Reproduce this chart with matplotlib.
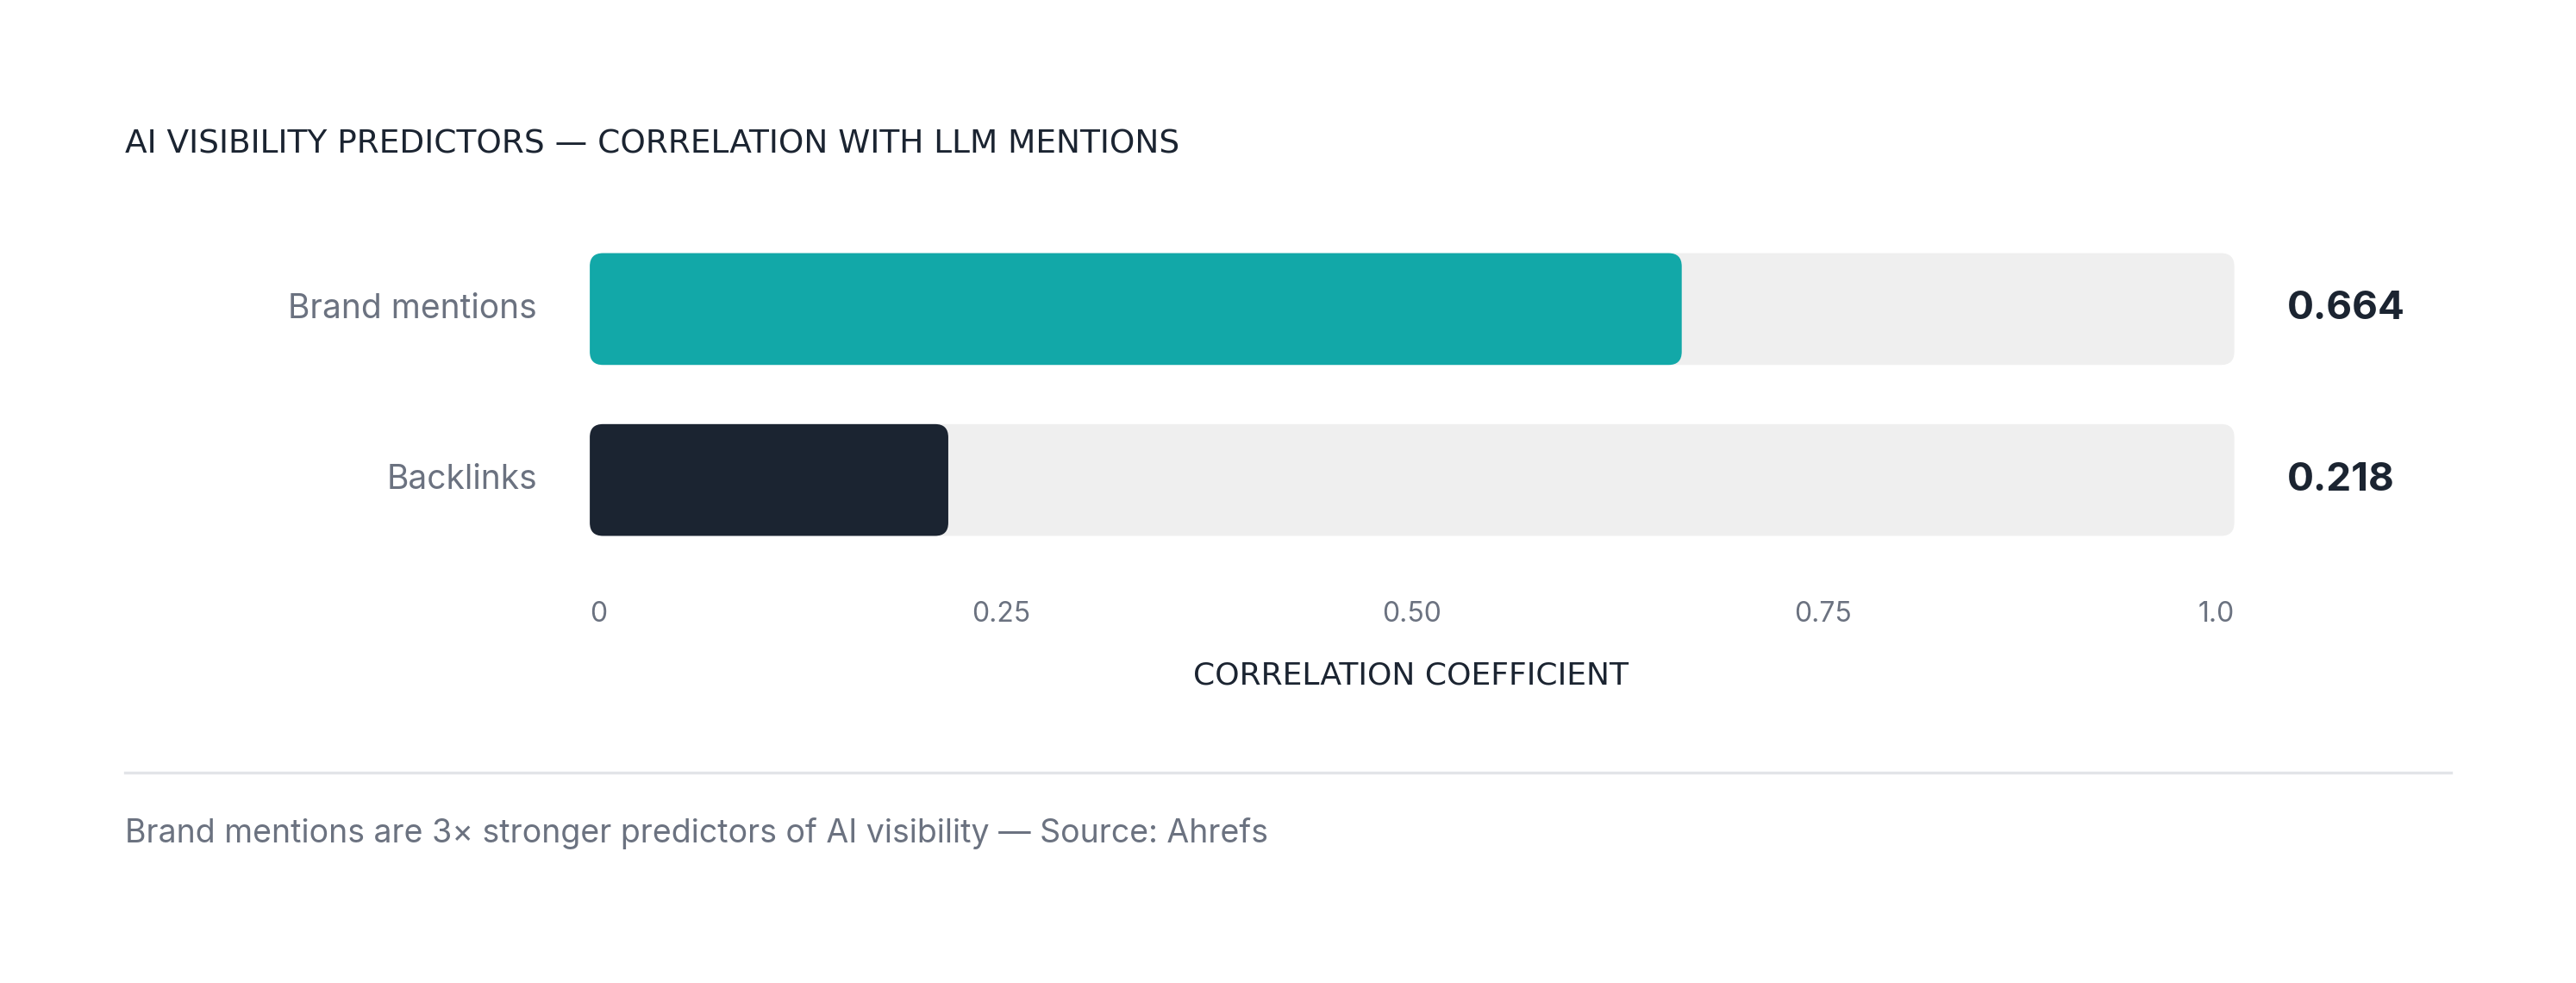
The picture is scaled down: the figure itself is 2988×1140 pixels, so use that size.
import matplotlib
matplotlib.use("Agg")
import matplotlib.pyplot as plt
from matplotlib.patches import FancyBboxPatch

categories = ["Brand mentions", "Backlinks"]
values = [0.664, 0.218]
value_labels = ["0.664", "0.218"]
bar_colors = ["#12A8A8", "#1B2431"]
tick_vals = [0, 0.25, 0.50, 0.75, 1.0]
tick_labels = ["0", "0.25", "0.50", "0.75", "1.0"]

W, H = 1568, 598
fig = plt.figure(figsize=(14.94, 5.7), dpi=200)
fig.patch.set_facecolor("white")
plt.rcParams['font.family'] = ['Inter', 'DejaVu Sans']

def fx(x): return x / W
def fy(y): return 1 - y / H

ax = fig.add_axes([fx(359), fy(340), fx(1360) - fx(359), (340 - 140) / H])
ax.set_xlim(0, 1)
ax.set_ylim(1.4615, -0.4615)
ax.axis("off")
h = 68 / 104
asp = 1001 / 104
for i, v in enumerate(values):
    ax.add_patch(FancyBboxPatch((0, i - h / 2), 1, h, boxstyle="round,pad=0,rounding_size=0.008",
                                mutation_aspect=asp, fc="#EFEFEF", ec="none"))
    ax.add_patch(FancyBboxPatch((0, i - h / 2), v, h, boxstyle="round,pad=0,rounding_size=0.008",
                                mutation_aspect=asp, fc=bar_colors[i], ec="none"))
    ax.text(-0.032, i, categories[i], ha="right", va="center", fontsize=14, color="#6B7280")
    ax.text(1.032, i, value_labels[i], ha="left", va="center", fontsize=16.5,
            fontweight="bold", color="#1B2431")

for tv, tl in zip(tick_vals, tick_labels):
    ha = "left" if tv == 0 else ("right" if tv == 1.0 else "center")
    xpix = 359 if tv == 0 else (1360 if tv == 1.0 else 359 + tv * 1001)
    fig.text(fx(xpix), fy(374), tl, ha=ha, va="center", fontsize=11.5, color="#6B7280")

fig.text(fx(859), fy(411), "CORRELATION COEFFICIENT", ha="center", va="center",
         fontsize=13, color="#1B2431", family=["DejaVu Sans"])
fig.text(fx(76), fy(88), "AI VISIBILITY PREDICTORS — CORRELATION WITH LLM MENTIONS",
         ha="left", va="center", fontsize=13.5, color="#1B2431", family=["DejaVu Sans"])
fig.add_artist(plt.Line2D([fx(76), fx(1492)], [fy(470), fy(470)], color="#E2E4E8", lw=1.2))
fig.text(fx(76), fy(507), "Brand mentions are 3× stronger predictors of AI visibility — Source: Ahrefs",
         ha="left", va="center", fontsize=13.5, color="#6B7280")

fig.savefig("out.png", dpi=200, facecolor="white")
